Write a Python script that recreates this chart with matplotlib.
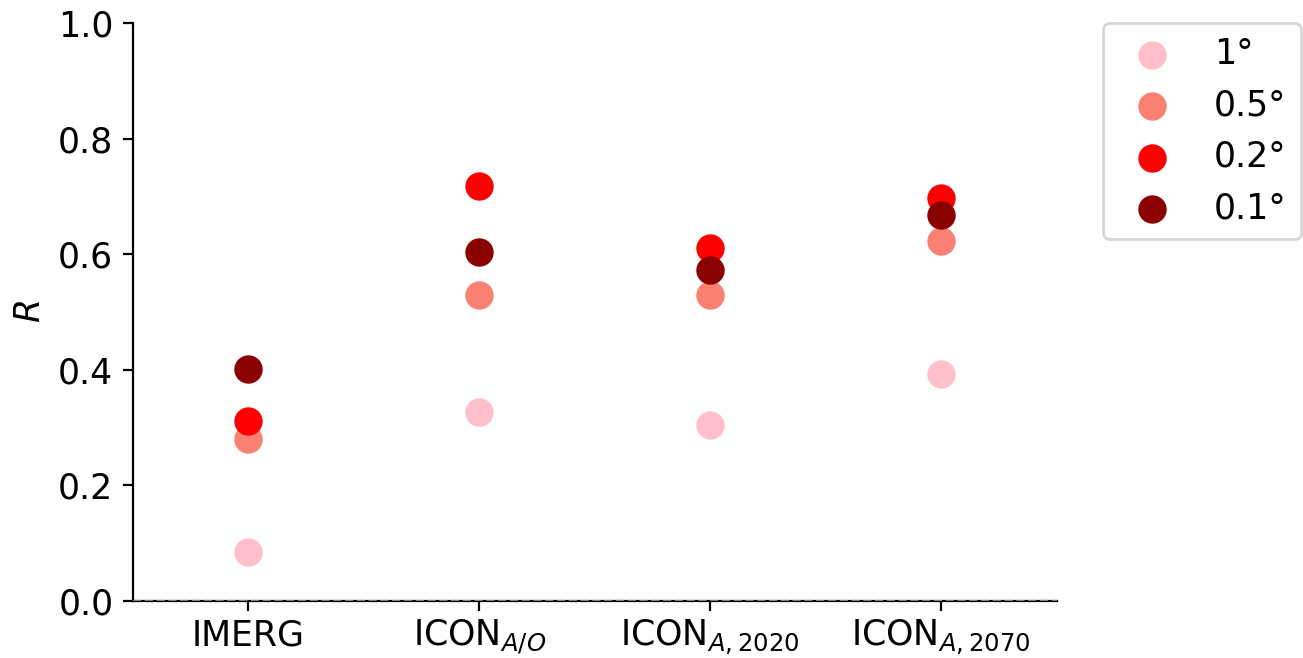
import matplotlib
matplotlib.use('Agg')
import matplotlib.pyplot as plt

datasets = ['IMERG', 'ICON$_{A/O}$', 'ICON$_{A,2020}$', 'ICON$_{A,2070}$']
resolutions = ['1°', '0.5°', '0.2°', '0.1°']
colors = ['pink', 'salmon', 'red', 'darkred']

r_1deg = [0.085, 0.326, 0.304, 0.392]
r_05deg = [0.280, 0.530, 0.530, 0.623]
r_02deg = [0.311, 0.718, 0.611, 0.698]
r_01deg = [0.401, 0.603, 0.572, 0.667]

values = [r_1deg, r_05deg, r_02deg, r_01deg]

plt.rcParams['font.size'] = 12.5
fig = plt.figure(figsize=(6.515, 3.29), dpi=200)
ax = fig.add_axes([0.102, 0.087, 0.709, 0.878])

xs = range(len(datasets))
for vals, lab, col in zip(values, resolutions, colors):
    ax.scatter(xs, vals, s=85, color=col, label=lab, zorder=3)

ax.axhline(0, color='gray', ls='--', lw=0.8, zorder=4)
ax.set_xticks(list(xs))
ax.set_xticklabels(datasets)
ax.tick_params(axis='x', pad=2.8)
ax.set_xlim(-0.5, 3.5)
ax.set_ylim(0, 1)
ax.set_yticks([0, 0.2, 0.4, 0.6, 0.8, 1.0])
ax.set_ylabel('$R$')
ax.spines['top'].set_visible(False)
ax.spines['right'].set_visible(False)
ax.legend(loc='upper left', bbox_to_anchor=(1.05, 1.0), borderaxespad=0)

fig.savefig('out.png', dpi=200)
